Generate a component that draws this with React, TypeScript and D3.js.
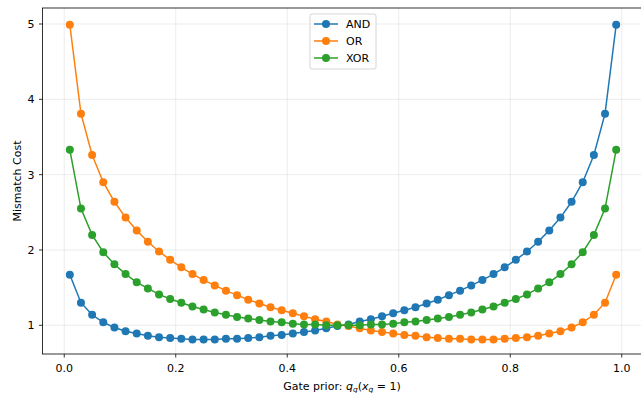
import React from "react";
import * as d3 from "d3";

const priors: number[] = [
  0.01, 0.03, 0.05, 0.07, 0.09, 0.11, 0.13, 0.15, 0.17, 0.19,
  0.21, 0.23, 0.25, 0.27, 0.29, 0.31, 0.33, 0.35, 0.37, 0.39,
  0.41, 0.43, 0.45, 0.47, 0.49, 0.51, 0.53, 0.55, 0.57, 0.59,
  0.61, 0.63, 0.65, 0.67, 0.69, 0.71, 0.73, 0.75, 0.77, 0.79,
  0.81, 0.83, 0.85, 0.87, 0.89, 0.91, 0.93, 0.95, 0.97, 0.99,
];

const andCost: number[] = [
  1.67, 1.30, 1.14, 1.04, 0.97, 0.92, 0.89, 0.86, 0.84, 0.83,
  0.82, 0.81, 0.81, 0.81, 0.82, 0.82, 0.83, 0.84, 0.86, 0.87,
  0.89, 0.91, 0.93, 0.96, 0.99, 1.01, 1.05, 1.08, 1.12, 1.16,
  1.20, 1.24, 1.29, 1.34, 1.40, 1.46, 1.53, 1.60, 1.68, 1.77,
  1.87, 1.98, 2.11, 2.26, 2.43, 2.64, 2.90, 3.26, 3.81, 4.99,
];

const orCost: number[] = [
  4.99, 3.81, 3.26, 2.90, 2.64, 2.43, 2.26, 2.11, 1.98, 1.87,
  1.77, 1.68, 1.60, 1.53, 1.46, 1.40, 1.34, 1.29, 1.24, 1.20,
  1.16, 1.12, 1.08, 1.05, 1.01, 0.99, 0.96, 0.93, 0.91, 0.89,
  0.87, 0.86, 0.84, 0.83, 0.82, 0.82, 0.81, 0.81, 0.81, 0.82,
  0.83, 0.84, 0.86, 0.89, 0.92, 0.97, 1.04, 1.14, 1.30, 1.67,
];

const xorCost: number[] = [
  3.33, 2.55, 2.20, 1.97, 1.81, 1.68, 1.57, 1.49, 1.41, 1.35,
  1.30, 1.25, 1.21, 1.17, 1.14, 1.11, 1.09, 1.07, 1.05, 1.04,
  1.02, 1.01, 1.01, 1.00, 1.00, 1.00, 1.00, 1.01, 1.01, 1.02,
  1.04, 1.05, 1.07, 1.09, 1.11, 1.14, 1.17, 1.21, 1.25, 1.30,
  1.35, 1.41, 1.49, 1.57, 1.68, 1.81, 1.97, 2.20, 2.55, 3.33,
];

const seriesNames: string[] = ["AND", "OR", "XOR"];
const seriesColors: string[] = ["#1f77b4", "#ff7f0e", "#2ca02c"];
const xTicks: number[] = [0.0, 0.2, 0.4, 0.6, 0.8, 1.0];
const yTicks: number[] = [1, 2, 3, 4, 5];

const W = 641;
const H = 393;
const FONT = "DejaVu Sans, sans-serif";
const FS = 11;

export default function App() {
  const left = 42.5;
  const right = 643.5;
  const top = 8;
  const bottom = 354;

  const x = d3.scaleLinear().domain([-0.039, 1.039]).range([left, right]);
  const y = d3.scaleLinear().domain([1, 5]).range([325.3, 24]);

  const allSeries = [andCost, orCost, xorCost];
  const line = d3
    .line<number>()
    .x((_, i) => x(priors[i]))
    .y((d) => y(d));

  return (
    <svg
      width={W}
      height={H}
      style={{ position: "absolute", left: 0, top: 0, background: "#fff" }}
      fontFamily={FONT}
    >
      <rect x={0} y={0} width={W} height={H} fill="#fff" />
      {/* grid */}
      {xTicks.map((t) => (
        <line
          key={"gx" + t}
          x1={x(t)}
          x2={x(t)}
          y1={top}
          y2={bottom}
          stroke="#b0b0b0"
          strokeOpacity={0.3}
          strokeWidth={0.8}
        />
      ))}
      {yTicks.map((t) => (
        <line
          key={"gy" + t}
          x1={left}
          x2={right}
          y1={y(t)}
          y2={y(t)}
          stroke="#b0b0b0"
          strokeOpacity={0.3}
          strokeWidth={0.8}
        />
      ))}
      {/* series */}
      {allSeries.map((s, si) => (
        <g key={seriesNames[si]}>
          <path
            d={line(s) || ""}
            fill="none"
            stroke={seriesColors[si]}
            strokeWidth={1.5}
          />
          {s.map((v, i) => (
            <circle
              key={i}
              cx={x(priors[i])}
              cy={y(v)}
              r={4}
              fill={seriesColors[si]}
            />
          ))}
        </g>
      ))}
      {/* spines */}
      <rect
        x={left}
        y={top}
        width={right - left}
        height={bottom - top}
        fill="none"
        stroke="#000"
        strokeWidth={0.8}
      />
      {/* x ticks */}
      {xTicks.map((t) => (
        <g key={"xt" + t}>
          <line x1={x(t)} x2={x(t)} y1={bottom} y2={bottom + 3.5} stroke="#000" strokeWidth={0.8} />
          <text x={x(t)} y={bottom + 17.5} fontSize={FS} textAnchor="middle" fill="#000">
            {d3.format(".1f")(t)}
          </text>
        </g>
      ))}
      {/* y ticks */}
      {yTicks.map((t) => (
        <g key={"yt" + t}>
          <line x1={left - 3.5} x2={left} y1={y(t)} y2={y(t)} stroke="#000" strokeWidth={0.8} />
          <text x={left - 8} y={y(t) + 4} fontSize={FS} textAnchor="end" fill="#000">
            {t}
          </text>
        </g>
      ))}
      {/* axis labels */}
      <text x={342} y={389.5} fontSize={FS} textAnchor="middle" fill="#000">
        Gate prior: <tspan fontStyle="italic">q</tspan>
        <tspan fontStyle="italic" fontSize={7.5} dy={2}>g</tspan>
        <tspan dy={-2}>(</tspan>
        <tspan fontStyle="italic">x</tspan>
        <tspan fontStyle="italic" fontSize={7.5} dy={2}>g</tspan>
        <tspan dy={-2}> = 1)</tspan>
      </text>
      <text
        transform={`translate(20.5, ${(top + bottom) / 2}) rotate(-90)`}
        fontSize={FS}
        textAnchor="middle"
        fill="#000"
      >
        Mismatch Cost
      </text>
      {/* legend */}
      <g>
        <rect
          x={310}
          y={14}
          width={66}
          height={55}
          rx={2}
          fill="#fff"
          fillOpacity={0.8}
          stroke="#cccccc"
          strokeWidth={0.8}
        />
        {seriesNames.map((n, i) => {
          const ly = 24 + i * 17;
          return (
            <g key={"lg" + n}>
              <line x1={314} x2={338} y1={ly} y2={ly} stroke={seriesColors[i]} strokeWidth={1.5} />
              <circle cx={326} cy={ly} r={4} fill={seriesColors[i]} />
              <text x={346} y={ly + 4} fontSize={FS} fill="#000">
                {n}
              </text>
            </g>
          );
        })}
      </g>
    </svg>
  );
}
